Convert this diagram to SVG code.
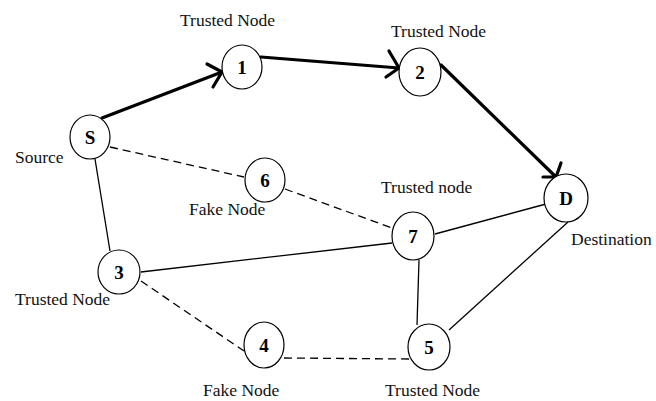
<svg xmlns="http://www.w3.org/2000/svg" width="656" height="401" viewBox="0 0 656 401">
<style>
.n{fill:#fff;stroke:#000;stroke-width:1.2}
.t{font-family:"Liberation Serif","Times New Roman",serif;font-weight:bold;font-size:19px;text-anchor:middle;fill:#000}
.l{font-family:"Liberation Serif","Times New Roman",serif;font-size:17.5px;fill:#111}
.e{stroke:#000;stroke-width:1.3;fill:none}
.d{stroke:#000;stroke-width:1.3;fill:none;stroke-dasharray:8 5}
.p{stroke:#000;stroke-width:3.2;fill:none;stroke-linecap:round;stroke-linejoin:round}
</style>
<rect width="656" height="401" fill="#fff"/>
<g id="connectors">
<line class="d" x1="110" y1="147" x2="244" y2="177"/>
<line class="d" x1="285" y1="189" x2="392" y2="228"/>
<line class="e" x1="95" y1="159" x2="110" y2="251"/>
<line class="e" x1="141" y1="272" x2="392" y2="243"/>
<line class="e" x1="435" y1="234" x2="546" y2="204"/>
<line class="e" x1="419" y1="260" x2="417" y2="325"/>
<line class="e" x1="449" y1="330" x2="568" y2="222"/>
<line class="d" x1="141" y1="281" x2="244" y2="351"/>
<line class="d" x1="284" y1="358" x2="409" y2="359"/>
<path class="p" d="M102 118 L222 72 M207 64 L222 72 L213 87"/>
<path class="p" d="M261 57 L399 68 M389 51 L399 68 L386 77"/>
<path class="p" d="M441 65 L556 177 M561 163 L556 177 L543 177"/>
</g>
<g id="node-S"><ellipse class="n" cx="90" cy="137" rx="20" ry="22"/><text class="t" x="90" y="144">S</text><text class="l" x="15" y="163">Source</text></g>
<g id="node-1"><ellipse class="n" cx="242" cy="67" rx="20" ry="22"/><text class="t" x="242" y="74">1</text><text class="l" x="180" y="26">Trusted Node</text></g>
<g id="node-2"><ellipse class="n" cx="420" cy="72" rx="21" ry="24"/><text class="t" x="420" y="79">2</text><text class="l" x="391" y="37">Trusted Node</text></g>
<g id="node-D"><ellipse class="n" cx="566" cy="198" rx="22" ry="24"/><text class="t" x="566" y="205">D</text><text class="l" x="571" y="245">Destination</text></g>
<g id="node-6"><ellipse class="n" cx="265" cy="180" rx="20" ry="22"/><text class="t" x="265" y="187">6</text><text class="l" x="189" y="215">Fake Node</text></g>
<g id="node-7"><ellipse class="n" cx="413" cy="236" rx="21" ry="24"/><text class="t" x="413" y="243">7</text><text class="l" x="381" y="193">Trusted node</text></g>
<g id="node-3"><ellipse class="n" cx="119" cy="272" rx="21" ry="22"/><text class="t" x="119" y="279">3</text><text class="l" x="15" y="305">Trusted Node</text></g>
<g id="node-4"><ellipse class="n" cx="264" cy="345" rx="20" ry="23"/><text class="t" x="264" y="352">4</text><text class="l" x="203" y="396">Fake Node</text></g>
<g id="node-5"><ellipse class="n" cx="429" cy="347" rx="21" ry="23"/><text class="t" x="429" y="354">5</text><text class="l" x="385" y="396">Trusted Node</text></g>
</svg>
